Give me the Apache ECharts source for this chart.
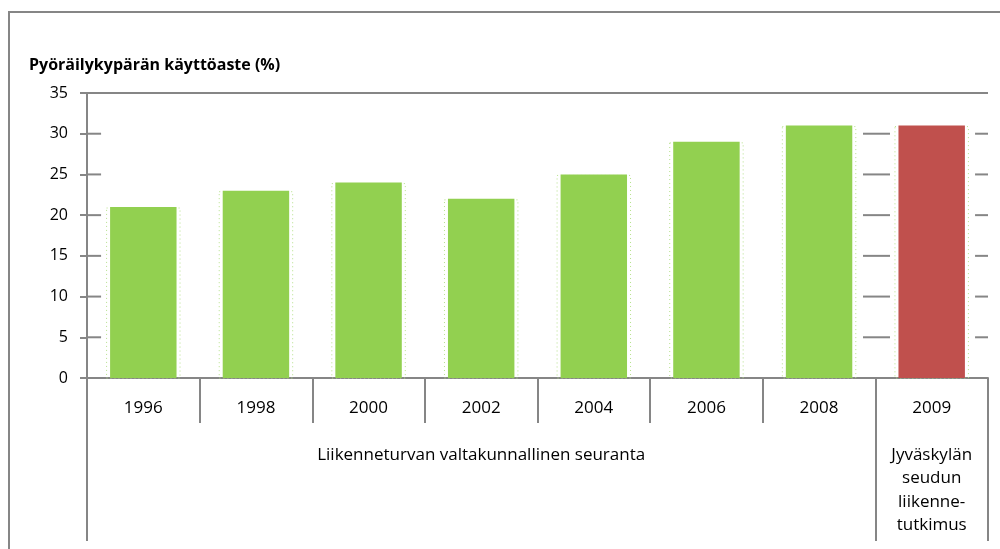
<!DOCTYPE html>
<html>
<head>
<meta charset="utf-8">
<script src="https://cdn.jsdelivr.net/npm/echarts@6/dist/echarts.min.js"></script>
<style>
html,body{margin:0;padding:0;background:#fff;}
#c{width:1000px;height:549px;}
</style>
</head>
<body>
<div id="c"></div>
<script>
const titleText = 'Pyöräilykypärän käyttöaste (%)';
const years = ['1996','1998','2000','2002','2004','2006','2008','2009'];
const helmetUse = [21, 23, 24, 22, 25, 29, 31, 31];
const barColors = ['#92D050','#92D050','#92D050','#92D050','#92D050','#92D050','#92D050','#C0504D'];
const groupLabels = ['Liikenneturvan valtakunnallinen seuranta', 'Jyväskylän\nseudun\nliikenne-\ntutkimus'];
const groupBounds = [0, 7, 8];
const groupCenters = [3.5, 7.5];
const yTicks = [5, 10, 15, 20, 25, 30, 35];

const FONT = '"Open Sans", sans-serif';
const GRAY = '#868686';

const chart = echarts.init(document.getElementById('c'));
chart.setOption({
  animation: false,
  textStyle: { fontFamily: FONT },
  title: {
    text: titleText, left: 24, top: 52,
    textStyle: { fontFamily: FONT, fontSize: 16, fontWeight: 'bold', color: '#000' }
  },
  graphic: [{
    type: 'rect', silent: true, z: -10,
    shape: { x: 9, y: 12, width: 1200, height: 800 },
    style: { fill: 'none', stroke: GRAY, lineWidth: 2 }
  }],
  grid: { left: 87, right: 12, top: 93, bottom: 171, containLabel: false },
  xAxis: [{
    type: 'category', data: years, position: 'bottom',
    axisLine: { lineStyle: { color: GRAY, width: 2 } },
    axisTick: { show: true, length: 45, lineStyle: { color: GRAY, width: 2 } },
    axisLabel: { fontSize: 17, color: '#000', margin: 22, fontFamily: FONT }
  }, {
    type: 'value', min: 0, max: 8, position: 'bottom', offset: 0,
    axisLine: { show: false },
    splitLine: { show: false },
    axisTick: { show: true, customValues: groupBounds, length: 163, lineStyle: { color: GRAY, width: 2 } },
    axisLabel: {
      customValues: groupCenters, margin: 65, fontSize: 17, color: '#000', lineHeight: 23.5,
      fontFamily: FONT, align: 'center',
      formatter: v => groupLabels[groupCenters.indexOf(v)]
    }
  }],
  yAxis: {
    type: 'value', min: 0, max: 35, interval: 5,
    axisLine: { show: true, lineStyle: { color: GRAY, width: 2 } },
    axisTick: { show: true, length: 7, lineStyle: { color: GRAY, width: 2 } },
    axisLabel: { fontSize: 16, color: '#000', margin: 19, fontFamily: FONT },
    splitLine: { show: false }
  },
  series: [{
    type: 'custom', name: 'grid', xAxisIndex: 0, yAxisIndex: 0, z: 1, silent: true,
    data: yTicks.map(v => [0, v]),
    encode: { x: 0, y: 1 },
    renderItem: function (params, api) {
      const v = api.value(1);
      const band = api.size([1, 0])[0];
      const y = api.coord([0, v])[1];
      const c0 = api.coord([0, v])[0];
      const c6 = api.coord([6, v])[0];
      const c7 = api.coord([7, v])[0];
      const left = c0 - band / 2, right = c7 + band / 2;
      let segs;
      if (v === 35) segs = [[left, right]];
      else segs = [[left, left + 0.125 * band], [c6 + 0.39 * band, c7 - 0.37 * band], [c7 + 0.385 * band, right]];
      return {
        type: 'group',
        children: segs.map(s => ({
          type: 'line', shape: { x1: s[0], y1: y, x2: s[1], y2: y },
          style: { stroke: GRAY, lineWidth: 2 }
        }))
      };
    }
  }, {
    type: 'custom', name: 'outline', xAxisIndex: 0, yAxisIndex: 0, z: 2, silent: true,
    data: helmetUse.map((v, i) => [i, v]),
    encode: { x: 0, y: 1 },
    renderItem: function (params, api) {
      const i = api.value(0), v = api.value(1);
      const band = api.size([1, 0])[0];
      const top = api.coord([i, v]);
      const bot = api.coord([i, 0]);
      const w = band * 0.59 + 7;
      return {
        type: 'rect',
        shape: { x: top[0] - w / 2, y: top[1] + 1, width: w, height: bot[1] - top[1] - 1 },
        style: { fill: 'none', stroke: '#b5e08a', lineWidth: 1, lineDash: [1, 3] }
      };
    }
  }, {
    type: 'bar', name: 'Pyöräilykypärän käyttöaste', xAxisIndex: 0, yAxisIndex: 0, z: 3,
    barWidth: '59%',
    data: helmetUse.map((v, i) => ({ value: v, itemStyle: { color: barColors[i] } }))
  }]
});
</script>
</body>
</html>
